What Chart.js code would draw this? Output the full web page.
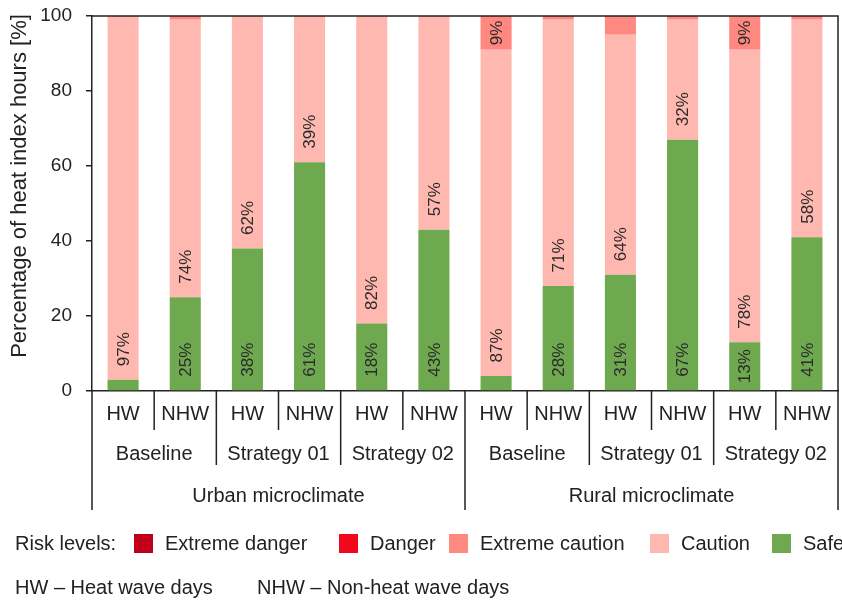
<!DOCTYPE html>
<html>
<head>
<meta charset="utf-8">
<title>Heat index hours by risk level</title>
<script src="https://cdn.jsdelivr.net/npm/chart.js@4/dist/chart.umd.min.js"></script>
<style>
  html, body { margin: 0; padding: 0; background: #fff; }
  #wrap { width: 842px; height: 605px; }
</style>
</head>
<body>
<div id="wrap"><canvas id="heatChart" width="842" height="605"></canvas></div>
<script>
// ======================
// Data
// ======================
const dayTypes = ['HW', 'NHW', 'HW', 'NHW', 'HW', 'NHW', 'HW', 'NHW', 'HW', 'NHW', 'HW', 'NHW'];
const scenarios = ['Baseline', 'Strategy 01', 'Strategy 02', 'Baseline', 'Strategy 01', 'Strategy 02'];
const sites = ['Urban microclimate', 'Rural microclimate'];

// share of heat index hours in each risk level [%]
const safe           = [3, 25, 38, 61, 18, 43, 4, 28, 31, 67, 13, 41];
const caution        = [97, 74, 62, 39, 82, 57, 87, 71, 64, 32, 78, 58];
const extremeCaution = [0, 1, 0, 0, 0, 0, 9, 1, 5, 1, 9, 1];
const danger         = [0, 0, 0, 0, 0, 0, 0, 0, 0, 0, 0, 0];
const extremeDanger  = [0, 0, 0, 0, 0, 0, 0, 0, 0, 0, 0, 0];

const yTicks = [0, 20, 40, 60, 80, 100];

const riskNames = ['Extreme danger', 'Danger', 'Extreme caution', 'Caution', 'Safe'];
const dayTypeNotes = ['HW \u2013 Heat wave days', 'NHW \u2013 Non-heat wave days'];

// ======================
// Styles
// ======================
const FONT = '"Liberation Sans", Arial, Helvetica, sans-serif';
const INK = '#222';
const colors = {
  'Extreme danger': '#C00018',
  'Danger': '#F2081C',
  'Extreme caution': '#FF8880',
  'Caution': '#FFB8B0',
  'Safe': '#6EA84F'
};

// ======================
// Value labels inside the bars (rotated, reading upwards)
// ======================
const valueLabels = {
  id: 'valueLabels',
  afterDatasetsDraw(chart) {
    const ctx = chart.ctx;
    ctx.save();
    ctx.font = '17px ' + FONT;
    ctx.fillStyle = '#2b2b2b';
    ctx.textBaseline = 'middle';
    chart.data.datasets.forEach((ds, di) => {
      const meta = chart.getDatasetMeta(di);
      meta.data.forEach((bar, i) => {
        const v = ds.data[i];
        if (!v) return;
        const p = bar.getProps(['x', 'y', 'base'], true);
        const h = p.base - p.y;
        const text = v + '%';
        const w = ctx.measureText(text).width;
        if (w + 4 > h) return;
        let start;
        if (w + 27 > h) {
          start = p.base - (h - w) / 2; // short segment: centre it
        } else {
          start = p.base - 13.5;
        }
        ctx.save();
        ctx.translate(p.x, start);
        ctx.rotate(-Math.PI / 2);
        ctx.textAlign = 'left';
        ctx.fillText(text, 0, 1);
        ctx.restore();
      });
    });
    ctx.restore();
  }
};

// ======================
// Frame, grouped category axis, y title and legend
// ======================
const decorations = {
  id: 'decorations',
  afterDraw(chart) {
    const ctx = chart.ctx;
    const area = chart.chartArea;
    const x = chart.scales.x;
    const px = i => x.getPixelForValue(i);
    const lineEnd = 510;

    ctx.save();
    ctx.strokeStyle = INK;
    ctx.lineWidth = 1.5;

    // top and right frame, plus the axis lines running down through the labels
    ctx.beginPath();
    ctx.moveTo(area.left, area.top);
    ctx.lineTo(area.right, area.top);
    ctx.lineTo(area.right, lineEnd);
    ctx.moveTo(area.left, area.bottom);
    ctx.lineTo(area.left, lineEnd);
    ctx.stroke();

    // separators between categories, longer for higher grouping levels
    ctx.beginPath();
    for (let i = 1; i < dayTypes.length; i++) {
      const bx = (px(i - 1) + px(i)) / 2;
      let end = 430;
      if (i % 6 === 0) end = lineEnd;
      else if (i % 2 === 0) end = 465;
      ctx.moveTo(bx, area.bottom);
      ctx.lineTo(bx, end);
    }
    ctx.stroke();

    ctx.fillStyle = INK;
    ctx.textAlign = 'center';
    ctx.textBaseline = 'middle';
    ctx.font = '20px ' + FONT;
    dayTypes.forEach((t, i) => ctx.fillText(t, px(i), 414));
    scenarios.forEach((t, k) => ctx.fillText(t, (px(2 * k) + px(2 * k + 1)) / 2, 454));
    sites.forEach((t, s) => ctx.fillText(t, (px(6 * s) + px(6 * s + 5)) / 2, 496));

    // y axis title
    ctx.save();
    ctx.translate(19, 186);
    ctx.rotate(-Math.PI / 2);
    ctx.font = '22px ' + FONT;
    ctx.fillText('Percentage of heat index hours [%]', 0, 1);
    ctx.restore();

    // legend
    ctx.font = '20px ' + FONT;
    ctx.textAlign = 'left';
    ctx.fillText('Risk levels:', 15, 544);
    const boxX = [134, 339, 449, 650, 772];
    riskNames.forEach((name, k) => {
      ctx.fillStyle = colors[name];
      ctx.fillRect(boxX[k], 534, 19, 19);
      ctx.fillStyle = INK;
      ctx.fillText(name, boxX[k] + 31, 544);
    });
    ctx.fillText(dayTypeNotes[0], 15, 588);
    ctx.fillText(dayTypeNotes[1], 257, 588);

    ctx.restore();
  }
};

function series(label, data) {
  return {
    label: label,
    data: data,
    backgroundColor: colors[label],
    borderWidth: 0,
    categoryPercentage: 0.5,
    barPercentage: 1.0
  };
}

new Chart(document.getElementById('heatChart'), {
  type: 'bar',
  data: {
    labels: dayTypes,
    datasets: [
      series('Safe', safe),
      series('Caution', caution),
      series('Extreme caution', extremeCaution),
      series('Danger', danger),
      series('Extreme danger', extremeDanger)
    ]
  },
  options: {
    responsive: false,
    animation: false,
    layout: { padding: { top: 16, right: 4, left: 0, bottom: 0 } },
    plugins: {
      legend: { display: false },
      tooltip: { enabled: false }
    },
    scales: {
      x: {
        stacked: true,
        ticks: { display: false },
        grid: { display: false },
        border: { display: true, color: INK, width: 1.5 },
        afterFit(scale) { scale.height = 214; }
      },
      y: {
        stacked: true,
        min: 0,
        max: 100,
        afterBuildTicks(scale) { scale.ticks = yTicks.map(v => ({ value: v })); },
        ticks: {
          padding: 14,
          color: INK,
          font: { family: FONT, size: 19 }
        },
        grid: {
          drawOnChartArea: false,
          drawTicks: true,
          tickLength: 6,
          color: INK,
          lineWidth: 1.5
        },
        border: { display: true, color: INK, width: 1.5 },
        afterFit(scale) {
          scale.width = 92;
          // keep the plot top fixed; the "100" label may overhang the frame
          scale.paddingTop = 0;
          scale.paddingBottom = 0;
        }
      }
    }
  },
  plugins: [valueLabels, decorations]
});
</script>
</body>
</html>
